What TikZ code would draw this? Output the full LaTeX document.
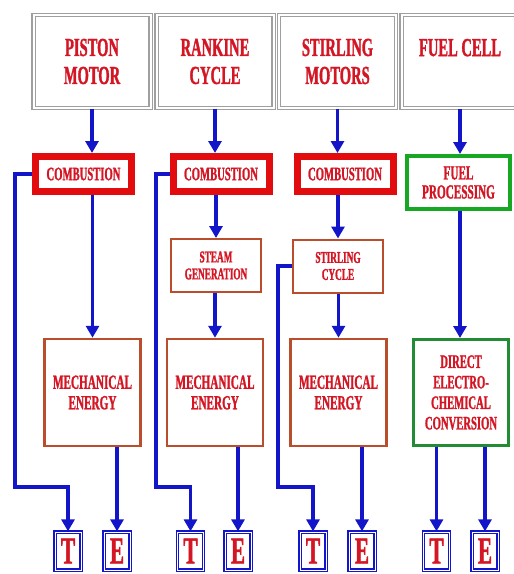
\documentclass[tikz,border=0pt]{standalone}
\usepackage{fontspec}
\setmainfont{Liberation Serif}[FakeStretch=0.56,BoldFeatures={FakeBold=1.2}]
\usepackage{tikz}
\usetikzlibrary{arrows.meta}
\definecolor{txtred}{RGB}{212,22,36}
\definecolor{cbred}{RGB}{226,12,14}
\definecolor{brick}{RGB}{186,78,44}
\definecolor{leaf}{RGB}{22,168,34}
\definecolor{darkleaf}{RGB}{34,140,52}
\definecolor{flowblue}{RGB}{18,22,200}
\tikzset{
  every node/.style={text=txtred,font=\bfseries,align=center,inner sep=0pt},
  topbox/.style={draw=gray!75,double=white,double distance=2pt,line width=1.2pt,
    minimum width=117pt,minimum height=93pt,font=\bfseries\fontsize{26}{28}\selectfont},
  burnbox/.style={draw=cbred,line width=7pt,minimum width=96pt,minimum height=35pt,
    font=\bfseries\fontsize{19}{20}\selectfont},
  stagebox/.style={draw=brick,line width=2pt,minimum width=90pt,minimum height=53pt,
    font=\bfseries\fontsize{16.5}{17}\selectfont},
  mechbox/.style={draw=brick,line width=2.5pt,minimum width=96pt,minimum height=107pt,
    font=\bfseries\fontsize{20}{20.5}\selectfont},
  fuelbox/.style={draw=leaf,line width=4pt,minimum width=103pt,minimum height=53pt,
    font=\bfseries\fontsize{20}{19}\selectfont},
  outbox/.style={draw=flowblue,double=white,double distance=1pt,line width=1.3pt,
    minimum width=26pt,minimum height=38pt,font=\bfseries\fontsize{38}{38}\selectfont},
  flow/.style={draw=flowblue,line width=3.5pt,-{Triangle[width=13pt,length=12pt]}}
}
\newcommand{\outpt}[3]{\node[outbox] at (#1) (#2) {#3}}

\begin{document}
\begin{tikzpicture}[x=1pt,y=-1pt]
    \useasboundingbox (0,0) rectangle (514,574);
    % source boxes
    \node[topbox] at (92,61.5) (pm) {PISTON\\MOTOR};
    \node[topbox] at (215,61.5) (rc) {RANKINE\\CYCLE};
    \node[topbox] at (337.5,61.5) (sm) {STIRLING\\MOTORS};
    \node[topbox] at (460,61.5) (fc) {FUEL CELL\\\mbox{}};

    % middle stages
    \node[burnbox] at (83.5,174) (cb1) {COMBUSTION};
    \node[burnbox] at (221,174) (cb2) {COMBUSTION};
    \node[burnbox] at (345,174) (cb3) {COMBUSTION};
    \node[fuelbox] at (458.5,182.5) (fp) {FUEL\\PROCESSING};
    \node[stagebox] at (216,265.5) (sg) {STEAM\\GENERATION};
    \node[stagebox] at (338,266) (sc) {STIRLING\\CYCLE};

    \node[mechbox] at (92.5,392.5) (me1) {MECHANICAL\\ENERGY};
    \node[mechbox] at (215,392.5) (me2) {MECHANICAL\\ENERGY};
    \node[mechbox] at (338.5,392.5) (me3) {MECHANICAL\\ENERGY};
    \node[fuelbox,draw=darkleaf,line width=3pt,minimum width=95pt,minimum height=106pt,
      font=\bfseries\fontsize{19}{20.5}\selectfont] at (461,392.5) (dc)
      {DIRECT\\ELECTRO-\\CHEMICAL\\CONVERSION};

    % outputs
    \outpt{68,551}{t1}{T};
    \outpt{117,551}{e1}{E};
    \outpt{190.5,551}{t2}{T};
    \outpt{238,551}{e2}{E};
    \outpt{313,551}{t3}{T};
    \outpt{362,551}{e3}{E};
    \outpt{436.5,551}{t4}{T};
    \outpt{485,551}{e4}{E};

    \coordinate (k1) at (15,487);
    \coordinate (k2) at (156,487);
    \coordinate (k3) at (278,487);

    \draw[flow] (pm) -- (pm |- cb1.north);
    \draw[flow] (rc) -- (rc |- cb2.north);
    \draw[flow] (sm) -- (sm |- cb3.north);
    \draw[flow] (fc) -- (fc |- fp.north);
    \draw[flow] (cb1.south -| me1) -- (me1.north);
    \draw[flow] (cb2.south -| sg) -- (sg.north);
    \draw[flow] (sg.south -| me2) -- (me2.north);
    \draw[flow] (cb3.south -| sc) -- (sc.north);
    \draw[flow] (sc.south -| me3) -- (me3.north);
    \draw[flow] (fp.south -| fc) -- (fc |- dc.north);
    \draw[flow] (cb1.west) -| (k1) -| (t1.north);
    \draw[flow] (cb2.west) -| (k2) -| (t2.north);
    \draw[flow] (sc.west) -| (k3) -| (t3.north);
    \draw[flow] (me1.south -| e1) -- (e1.north);
    \draw[flow] (me2.south -| e2) -- (e2.north);
    \draw[flow] (me3.south -| e3) -- (e3.north);
    \draw[flow] (dc.south -| t4) -- (t4.north);
    \draw[flow] (dc.south -| e4) -- (e4.north);
\end{tikzpicture}
\end{document}
